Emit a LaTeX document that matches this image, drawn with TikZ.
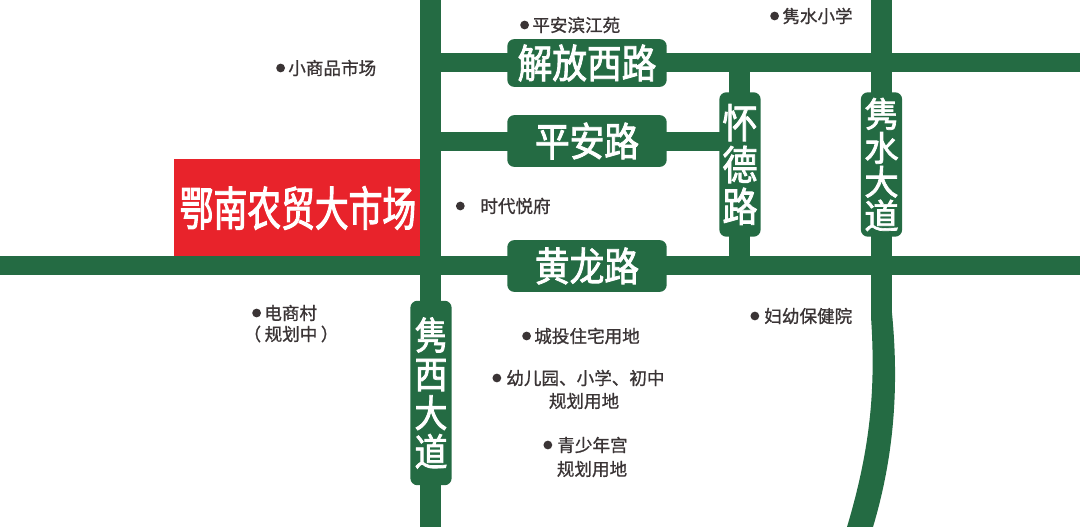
\documentclass[tikz,border=0pt]{standalone}
\usepackage{fontspec}
\setmainfont{Noto Sans CJK SC}
\newfontfamily\marketfont[FakeStretch=0.72,FakeBold=2]{Noto Sans CJK SC}
\newfontfamily\roadfont[FakeStretch=0.87,FakeBold=2]{Noto Sans CJK SC}
\newfontfamily\plainroadfont[FakeBold=2]{Noto Sans CJK SC}
\newfontfamily\placefont[FakeBold=1]{Noto Sans CJK SC}
\usetikzlibrary{positioning}
\definecolor{roadgreen}{HTML}{246B43}
\definecolor{marketred}{HTML}{E8232B}
\definecolor{placegray}{HTML}{3A3435}
\tikzset{
  road/.style={fill=roadgreen},
  roadname/.style={fill=roadgreen, text=white, rounded corners=4pt, inner sep=0pt, align=center},
  wide/.style={roadname, minimum width=90.7pt, font=\roadfont\fontsize{22.7}{24}\selectfont},
  tall/.style={roadname, minimum width=23.5pt},
  place/.style={text=placegray, font=\placefont\fontsize{10}{14}\selectfont, inner sep=0pt, align=center},
  spot/.style={circle, fill=placegray, inner sep=0pt, minimum size=5pt}
}
\begin{document}
\begin{tikzpicture}[x=0.02cm,y=-0.02cm]
  \useasboundingbox (0,0) rectangle (1080,527);
  % Market block
  \fill[marketred] (174,159) rectangle (420,256);
  \node[text=white, font=\marketfont\fontsize{26.7}{28}\selectfont, inner sep=0pt] (market) at (298,208) {鄂南农贸大市场};

  % Roads
  \fill[road] (420,0) rectangle (441,527);
  \fill[road] (0,256) rectangle (1080,275);
  \fill[road] (441,53) rectangle (1080,72);
  \fill[road] (441,132) rectangle (729,151);
  \fill[road] (729,72) rectangle (750,256);
  \fill[road] (871,0) rectangle (891.5,317);
  \fill[road] (871,317) .. controls (876,390) and (870,450) .. (847,527)
    -- (873,527) .. controls (893,460) and (900,390) .. (891.5,308) -- cycle;

  % Road names
  \node[wide, minimum height=27.2pt] (jiefang) at (587,63) {解放西路};
  \node[wide, minimum height=29.5pt] (pingan) at (587,141) {平安路};
  \node[wide, minimum height=29.5pt] (huanglong) at (587,266) {黄龙路};
  \node[tall, minimum height=82.2pt, font=\roadfont\fontsize{23}{23.8}\selectfont] (huaide) at (740,164.5) {怀\\德\\路};
  \node[tall, minimum height=82.2pt, font=\plainroadfont\fontsize{19.6}{19.3}\selectfont] (juanshui) at (881.5,164.5) {隽\\水\\大\\道};
  \node[tall, minimum height=105pt, font=\roadfont\fontsize{21.6}{22.1}\selectfont] (juanxi) at (431,393) {隽\\西\\大\\道};

  % Places
  \node[place, anchor=west] (binjiang) at (532,25) {平安滨江苑};
  \node[spot, left=1.5pt of binjiang] (binjiangdot) {};
  \node[place, anchor=west] (juanshuischool) at (782,16) {隽水小学};
  \node[spot, left=1.5pt of juanshuischool] (schooldot) {};
  \node[place, anchor=west] (smallgoods) at (288,68) {小商品市场};
  \node[spot, left=1.5pt of smallgoods] (goodsdot) {};
  \node[place, anchor=west] (shidai) at (480,206) {时代悦府};
  \node[spot, left=8.5pt of shidai] (shidaidot) {};
  \node[place, anchor=west] (dianshang) at (264,313) {电商村};
  \node[spot, left=1.5pt of dianshang] (shangdot) {};
  \node[place] (guihua) at (291,334) {（\hspace{2pt}规划中\hspace{2pt}）};
  \node[place, anchor=west] (fuyou) at (764,316) {妇幼保健院};
  \node[spot, left=2.5pt of fuyou] (fuyoudot) {};
  \node[place, anchor=west] (chengtou) at (534,336) {城投住宅用地};
  \node[spot, left=1.5pt of chengtou] (chengtoudot) {};
  \node[place, anchor=west] (youer) at (506,378) {幼儿园、小学、初中};
  \node[spot, left=2.5pt of youer] (youerdot) {};
  \node[place] (landa) at (584,401) {规划用地};
  \node[place, anchor=west] (qingshao) at (557,445) {青少年宫};
  \node[spot, left=2.5pt of qingshao] (qingshaodot) {};
  \node[place] (landb) at (592,469) {规划用地};
\end{tikzpicture}
\end{document}
